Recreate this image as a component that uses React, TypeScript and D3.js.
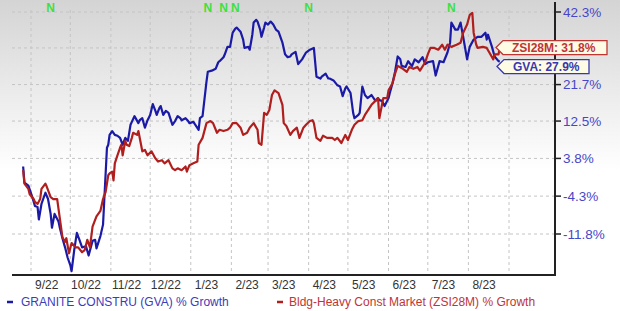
import React from "react";
import * as d3 from "d3";

const GVA: [string, number][] = [
["2022-08-26",2.0],["2022-08-27",-1.5],["2022-08-30",-2.1],["2022-09-02",-4.5],["2022-09-04",-6.3],["2022-09-06",-6.5],["2022-09-07",-9.0],["2022-09-09",-5.9],["2022-09-12",-3.6],["2022-09-14",-4.9],["2022-09-16",-7.9],["2022-09-17",-10.6],["2022-09-19",-7.9],["2022-09-22",-9.4],["2022-09-23",-10.6],["2022-09-25",-12.6],["2022-09-27",-14.3],["2022-09-29",-16.2],["2022-10-01",-17.5],["2022-10-02",-18.6],["2022-10-04",-14.8],["2022-10-06",-11.6],["2022-10-08",-12.9],["2022-10-10",-14.3],["2022-10-13",-14.1],["2022-10-15",-15.8],["2022-10-18",-13.1],["2022-10-20",-12.9],["2022-10-21",-14.5],["2022-10-24",-12.2],["2022-10-26",-10.0],["2022-10-27",-4.9],["2022-10-29",6.2],["2022-10-30",6.9],["2022-10-31",9.2],["2022-11-02",10.1],["2022-11-04",9.2],["2022-11-06",9.0],["2022-11-08",8.5],["2022-11-10",6.9],["2022-11-12",8.5],["2022-11-14",7.8],["2022-11-16",11.6],["2022-11-19",13.7],["2022-11-22",12.0],["2022-11-23",12.7],["2022-11-25",13.2],["2022-11-27",10.9],["2022-11-29",12.7],["2022-12-01",14.0],["2022-12-03",16.7],["2022-12-05",15.0],["2022-12-06",14.0],["2022-12-08",15.7],["2022-12-09",16.2],["2022-12-11",14.0],["2022-12-13",15.0],["2022-12-15",14.5],["2022-12-18",11.6],["2022-12-20",12.5],["2022-12-22",13.7],["2022-12-24",13.2],["2022-12-25",12.7],["2022-12-28",13.2],["2022-12-30",12.5],["2022-12-31",12.0],["2023-01-03",12.3],["2023-01-04",11.8],["2023-01-07",10.4],["2023-01-08",13.2],["2023-01-10",13.7],["2023-01-13",22.5],["2023-01-14",25.1],["2023-01-17",25.4],["2023-01-20",25.9],["2023-01-22",27.7],["2023-01-23",28.0],["2023-01-26",29.1],["2023-01-27",29.9],["2023-01-29",32.0],["2023-01-31",32.0],["2023-02-02",36.1],["2023-02-04",37.3],["2023-02-05",37.6],["2023-02-08",36.4],["2023-02-10",34.1],["2023-02-11",31.7],["2023-02-14",32.0],["2023-02-15",31.2],["2023-02-17",35.5],["2023-02-18",39.1],["2023-02-20",39.9],["2023-02-21",39.4],["2023-02-23",37.0],["2023-02-24",34.9],["2023-02-26",37.6],["2023-02-27",39.1],["2023-03-01",38.5],["2023-03-03",39.4],["2023-03-05",38.5],["2023-03-07",37.0],["2023-03-09",36.4],["2023-03-12",33.2],["2023-03-14",29.9],["2023-03-16",29.1],["2023-03-18",29.3],["2023-03-19",29.9],["2023-03-22",30.6],["2023-03-24",27.2],["2023-03-27",28.5],["2023-03-30",30.4],["2023-04-02",31.2],["2023-04-05",31.7],["2023-04-07",23.8],["2023-04-10",23.3],["2023-04-11",23.8],["2023-04-14",24.6],["2023-04-16",23.3],["2023-04-17",23.3],["2023-04-20",22.8],["2023-04-23",21.5],["2023-04-25",21.2],["2023-04-27",18.7],["2023-04-29",20.7],["2023-04-30",21.2],["2023-05-03",19.5],["2023-05-04",17.0],["2023-05-05",14.5],["2023-05-06",13.2],["2023-05-09",14.0],["2023-05-10",14.5],["2023-05-12",21.2],["2023-05-14",19.0],["2023-05-16",18.2],["2023-05-18",18.7],["2023-05-19",19.0],["2023-05-22",17.5],["2023-05-24",18.2],["2023-05-25",17.7],["2023-05-27",17.5],["2023-05-29",16.2],["2023-06-01",18.2],["2023-06-02",19.5],["2023-06-04",22.0],["2023-06-06",25.1],["2023-06-08",29.3],["2023-06-10",28.5],["2023-06-11",26.7],["2023-06-14",26.4],["2023-06-16",28.0],["2023-06-17",27.5],["2023-06-19",26.7],["2023-06-21",28.5],["2023-06-24",27.7],["2023-06-27",29.1],["2023-06-29",27.2],["2023-07-01",27.7],["2023-07-05",28.0],["2023-07-07",24.1],["2023-07-10",28.0],["2023-07-13",27.7],["2023-07-16",30.4],["2023-07-18",33.2],["2023-07-19",39.1],["2023-07-22",37.0],["2023-07-24",37.0],["2023-07-26",39.1],["2023-07-28",34.9],["2023-07-31",28.5],["2023-08-02",32.0],["2023-08-05",34.1],["2023-08-08",34.9],["2023-08-11",34.9],["2023-08-14",36.1],["2023-08-15",34.1],["2023-08-16",35.5],["2023-08-19",32.0],["2023-08-21",29.3],["2023-08-24",28.0],["2023-08-25",27.9]
];

const ZSI: [string, number][] = [
["2022-08-26",1.2],["2022-08-27",-1.7],["2022-08-30",-2.8],["2022-08-31",-3.9],["2022-09-03",-4.9],["2022-09-04",-5.5],["2022-09-06",-5.9],["2022-09-08",-4.9],["2022-09-09",-2.8],["2022-09-12",-1.7],["2022-09-13",-2.3],["2022-09-16",-4.5],["2022-09-18",-4.9],["2022-09-21",-4.9],["2022-09-22",-6.9],["2022-09-25",-12.4],["2022-09-27",-13.3],["2022-09-28",-12.6],["2022-09-30",-15.4],["2022-10-02",-13.5],["2022-10-05",-14.3],["2022-10-07",-14.3],["2022-10-10",-15.2],["2022-10-12",-14.8],["2022-10-14",-12.9],["2022-10-16",-14.3],["2022-10-18",-10.4],["2022-10-21",-8.4],["2022-10-24",-7.3],["2022-10-26",-4.9],["2022-10-28",-3.4],["2022-10-30",0.1],["2022-10-31",0.5],["2022-11-02",0.9],["2022-11-03",-1.0],["2022-11-04",2.7],["2022-11-06",4.5],["2022-11-08",6.2],["2022-11-09",6.9],["2022-11-10",4.5],["2022-11-12",7.8],["2022-11-13",6.9],["2022-11-15",6.6],["2022-11-17",8.5],["2022-11-18",9.7],["2022-11-21",9.2],["2022-11-22",10.1],["2022-11-25",5.4],["2022-11-27",5.7],["2022-11-29",4.5],["2022-12-02",5.4],["2022-12-05",3.8],["2022-12-07",3.1],["2022-12-10",3.4],["2022-12-12",2.7],["2022-12-15",3.4],["2022-12-18",1.6],["2022-12-20",1.2],["2022-12-22",1.6],["2022-12-25",1.2],["2022-12-28",2.0],["2022-12-29",0.9],["2022-12-31",2.3],["2023-01-03",2.7],["2023-01-06",3.1],["2023-01-07",6.9],["2023-01-10",8.5],["2023-01-13",12.0],["2023-01-16",12.5],["2023-01-18",12.0],["2023-01-21",9.7],["2023-01-23",10.4],["2023-01-26",10.1],["2023-01-29",10.4],["2023-01-31",10.9],["2023-02-02",12.0],["2023-02-05",12.0],["2023-02-08",10.9],["2023-02-10",9.2],["2023-02-13",9.7],["2023-02-15",10.9],["2023-02-18",12.0],["2023-02-21",10.4],["2023-02-22",7.3],["2023-02-24",6.9],["2023-02-26",14.5],["2023-02-28",14.0],["2023-03-02",15.2],["2023-03-04",19.0],["2023-03-06",20.2],["2023-03-09",19.5],["2023-03-12",16.5],["2023-03-13",12.0],["2023-03-15",11.3],["2023-03-18",9.2],["2023-03-20",10.1],["2023-03-23",10.9],["2023-03-25",8.5],["2023-03-28",10.9],["2023-03-30",11.6],["2023-04-02",12.5],["2023-04-04",12.7],["2023-04-05",12.0],["2023-04-07",8.5],["2023-04-10",7.8],["2023-04-12",9.0],["2023-04-15",8.5],["2023-04-19",8.5],["2023-04-21",8.0],["2023-04-23",8.5],["2023-04-26",7.3],["2023-04-29",9.2],["2023-05-01",8.0],["2023-05-04",10.4],["2023-05-06",11.6],["2023-05-09",12.5],["2023-05-12",12.7],["2023-05-14",14.0],["2023-05-16",15.0],["2023-05-19",16.5],["2023-05-22",17.5],["2023-05-24",18.2],["2023-05-25",13.2],["2023-05-28",18.2],["2023-05-31",18.2],["2023-06-01",20.2],["2023-06-04",22.0],["2023-06-06",24.6],["2023-06-08",26.7],["2023-06-12",25.9],["2023-06-15",25.1],["2023-06-17",26.4],["2023-06-20",25.9],["2023-06-23",26.4],["2023-06-25",25.4],["2023-06-29",27.7],["2023-07-01",29.9],["2023-07-03",31.7],["2023-07-06",31.7],["2023-07-09",31.2],["2023-07-12",32.6],["2023-07-14",31.2],["2023-07-16",32.6],["2023-07-19",32.0],["2023-07-23",32.6],["2023-07-26",33.2],["2023-07-28",36.1],["2023-07-31",38.5],["2023-08-02",41.4],["2023-08-04",42.0],["2023-08-05",36.1],["2023-08-07",32.6],["2023-08-08",31.7],["2023-08-12",32.0],["2023-08-15",31.7],["2023-08-17",30.4],["2023-08-20",28.5],["2023-08-21",29.9],["2023-08-24",29.9],["2023-08-25",31.8]
];

// grid values on the log-growth axis; the 31.7% tick carries no visible label in the reference
const Y_TICKS: number[] = [42.3, 31.7, 21.7, 12.5, 3.8, -4.3, -11.8];
const Y_LABELED: number[] = [42.3, 21.7, 12.5, 3.8, -4.3, -11.8];
const N_DATES: string[] = ["2022-09-16", "2023-01-14", "2023-01-26", "2023-02-04", "2023-04-01", "2023-07-19"];
const GVA_LEGEND = "GRANITE CONSTRU (GVA) % Growth";
const ZSI_LEGEND = "Bldg-Heavy Const Market (ZSI28M) % Growth";
const GVA_TAG = "GVA";
const ZSI_TAG = "ZSI28M";

const W = 620, H = 311;
const PLOT_LEFT = 12, PLOT_RIGHT = 555, PLOT_BOTTOM = 275, PLOT_TOP = 10;
const BLUE = "#1a1aa6", RED = "#b01e1e";
const FONT = "'Liberation Sans', Arial, sans-serif";

const parse = d3.timeParse("%Y-%m-%d");

export default function App() {
  const x = d3.scaleTime()
    .domain([new Date(2022, 8, 1), new Date(2023, 8, 1)])
    .range([31, 509]);
  const y = d3.scaleLog()
    .domain([1 + Y_TICKS[Y_TICKS.length - 1] / 100, 1 + Y_TICKS[0] / 100])
    .range([234, 12]);
  const yv = (v: number) => y(1 + v / 100);

  const line = d3.line<[string, number]>()
    .x(d => x(parse(d[0]) as Date))
    .y(d => yv(d[1]));

  const months = d3.timeMonth.range(new Date(2022, 8, 1), new Date(2023, 8, 2));
  const labelMonths = months.slice(0, 12);
  const fmt = d3.timeFormat("%-m/%y");

  const zLast = ZSI[ZSI.length - 1][1];
  const gLast = GVA[GVA.length - 1][1];
  let zy = yv(zLast), gy = yv(gLast);
  if (Math.abs(gy - zy) < 19) {
    if (gy >= zy) gy = zy + 19; else zy = gy + 19;
  }
  const tag = (ty: number, w: number, color: string, text: string, tipX: number) => {
    const h = 14;
    const pts = [[tipX, ty], [tipX + 7, ty - h / 2], [tipX + w, ty - h / 2], [tipX + w, ty + h / 2], [tipX + 7, ty + h / 2]];
    return (
      <g>
        <polygon points={pts.map(p => p.join(",")).join(" ")} fill="#fdfbe3" stroke={color} strokeWidth={1.3} />
        <text x={tipX + 16} y={ty + 4.3} fill={color} fontSize={12} fontWeight="bold" fontFamily={FONT}>{text}</text>
      </g>
    );
  };

  return (
    <svg width={W} height={H} style={{ position: "absolute", left: 0, top: 0 }}>
      <defs>
        <linearGradient id="bg" x1="0" y1="0" x2="0" y2={H} gradientUnits="userSpaceOnUse">
          <stop offset="0" stopColor="#d4d4d4" />
          <stop offset="0.55" stopColor="#ffffff" />
          <stop offset="1" stopColor="#ffffff" />
        </linearGradient>
      </defs>
      <rect x={0} y={0} width={W} height={H} fill="url(#bg)" />
      {Y_TICKS.map(t => (
        <line key={"h" + t} x1={PLOT_LEFT} x2={PLOT_RIGHT} y1={yv(t)} y2={yv(t)} stroke="#c4c4c4" strokeDasharray="3,3" strokeWidth={1} />
      ))}
      {months.map(m => (
        <line key={"v" + m.getTime()} x1={x(m)} x2={x(m)} y1={PLOT_TOP} y2={PLOT_BOTTOM} stroke="#c4c4c4" strokeDasharray="3,3" strokeWidth={1} />
      ))}
      <line x1={PLOT_LEFT} x2={PLOT_RIGHT + 1} y1={PLOT_BOTTOM} y2={PLOT_BOTTOM} stroke="#222" strokeWidth={2} />
      <line x1={PLOT_RIGHT} x2={PLOT_RIGHT} y1={2} y2={PLOT_BOTTOM + 1} stroke="#222" strokeWidth={2} />
      {Y_TICKS.map(t => (
        <line key={"t" + t} x1={PLOT_RIGHT} x2={PLOT_RIGHT + 6} y1={yv(t)} y2={yv(t)} stroke="#222" strokeWidth={1.5} />
      ))}
      {Y_LABELED.map(t => (
        <text key={"yl" + t} x={PLOT_RIGHT + 8} y={yv(t) + 4.5} fill="#4646c8" fontSize={13.5} fontFamily={FONT}>{t.toFixed(1) + "%"}</text>
      ))}
      {labelMonths.map(m => (
        <text key={"l" + m.getTime()} x={x(d3.timeDay.offset(m, 12))} y={289} textAnchor="middle" fill="#333" fontSize={12} fontFamily={FONT}>{fmt(m)}</text>
      ))}
      <path d={line(GVA) as string} fill="none" stroke={BLUE} strokeWidth={2.2} strokeLinejoin="round" />
      <path d={line(ZSI) as string} fill="none" stroke={RED} strokeWidth={2.2} strokeLinejoin="round" />
      {N_DATES.map(d => (
        <text key={"n" + d} x={x(parse(d) as Date)} y={12} textAnchor="middle" fill="#3ee03e" fontSize={12} fontWeight="bold" fontFamily={FONT}>N</text>
      ))}
      {tag(zy, 111, "#c03434", `${ZSI_TAG}: ${zLast.toFixed(1)}%`, 496)}
      {tag(gy, 92, "#3838b0", `${GVA_TAG}: ${gLast.toFixed(1)}%`, 497)}
      <line x1={7} x2={13} y1={302} y2={302} stroke={BLUE} strokeWidth={2.5} />
      <text x={21} y={306} fill="#3c3cb8" fontSize={12} fontFamily={FONT}>{GVA_LEGEND}</text>
      <line x1={277} x2={283} y1={302} y2={302} stroke={RED} strokeWidth={2.5} />
      <text x={289} y={306} fill="#c03434" fontSize={12} fontFamily={FONT}>{ZSI_LEGEND}</text>
    </svg>
  );
}
